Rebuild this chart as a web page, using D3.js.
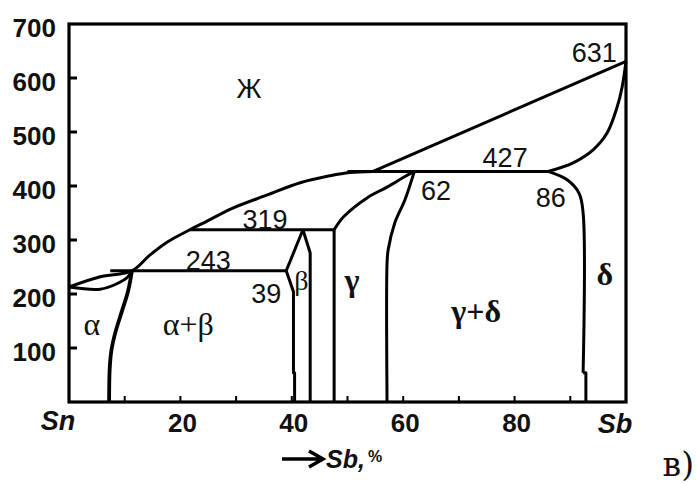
<!DOCTYPE html>
<html>
<head>
<meta charset="utf-8">
<script src="https://cdn.jsdelivr.net/npm/d3@7/dist/d3.min.js"></script>
<style>
  html, body { margin: 0; padding: 0; background: #fff; }
  svg { display: block; }
  text { fill: #111; }
</style>
</head>
<body>
<div id="chart"></div>
<script>
// Sn–Sb equilibrium phase diagram (composition in % Sb, temperature in °C)

// axis ticks
const tempTicks = [100, 200, 300, 400, 500, 600, 700];
const compTicks = [20, 40, 60, 80];
const compMinorTicks = [10, 20, 30, 40, 50, 60, 70, 80, 90];

// phase boundaries, [Sb %, T °C]
const liquidusLow = [[0, 213], [5.6, 232], [11.3, 243], [14.5, 272], [17.6, 296], [21.7, 319],
  [24.8, 335], [29.4, 359], [35.5, 383], [41.5, 406], [46.9, 419], [50.4, 425], [54.6, 427]];
const liquidusHigh = [[54.6, 427], [100, 631]];
const alphaSolidus = [[0, 213], [5.6, 209], [8.6, 219], [10.5, 231], [11.3, 243]];
const alphaSolvus = [[11.3, 243], [10.6, 205], [9.4, 165], [8.3, 128], [7.6, 95], [7.3, 60], [7.2, 0]];
const betaLeftUpper = [[39, 243], [42.0, 319]];
const betaRightUpper = [[42.0, 319], [43.3, 276], [43.3, 0]];
const betaLeftLower = [[39, 243], [40.3, 204], [40.3, 54], [40.5, 54], [40.5, 0]];
const gammaLeft = [[47.6, 319], [47.6, 0]];
const gammaSolidus = [[47.6, 319], [49.3, 343], [53.5, 378], [57.1, 398], [60.4, 418], [62, 427]];
const gammaSolvus = [[62, 427], [60.3, 374], [58.5, 332], [57.3, 282], [57.1, 257], [57.1, 0]];
const deltaSolidus = [[100, 631], [99.3, 583], [98.4, 546], [96.6, 498], [94.1, 467], [90.5, 443], [86, 427]];
const deltaSolvus = [[86, 427], [89.5, 411], [91.6, 386], [92.3, 350], [92.3, 54], [92.8, 54], [92.8, 0]];

// horizontal (invariant) lines: temperature and composition span
const isoTemps = [243, 319, 427];
const isoFrom = [7.4, 21.7, 50];
const isoTo = [39, 47.6, 86];

// text in the field of the diagram
const fieldText = ["631", "427", "62", "86", "319", "243", "39", "Ж"];
const phaseText = ["α", "α+β", "β", "γ", "δ", "γ+δ"];
const phaseBold = [false, false, false, true, true, true];

// anchor of each text, [Sb %, T °C] (middle of text, baseline)
const fieldAnchor = [[94.3, 630], [78.3, 435], [65.9, 374], [86.5, 361], [35.2, 321], [25, 245], [35.4, 183], [32.3, 563]];
const phaseAnchor = [[4.1, 124], [21.4, 124], [41.7, 207], [50.8, 206], [96.2, 217], [73.1, 148]];

const W = 696, H = 484;
const x = d3.scaleLinear().domain([0, 100]).range([69, 626]);
const y = d3.scaleLinear().domain([0, 700]).range([402, 24]);

const svg = d3.select("#chart").append("svg")
  .attr("width", W).attr("height", H)
  .attr("viewBox", `0 0 ${W} ${H}`);

const curved = d3.line().x(d => x(d[0])).y(d => y(d[1])).curve(d3.curveCatmullRom.alpha(0.5));
const straight = d3.line().x(d => x(d[0])).y(d => y(d[1]));

const lines = svg.append("g")
  .attr("fill", "none").attr("stroke", "#000")
  .attr("stroke-width", 3).attr("stroke-linejoin", "round").attr("stroke-linecap", "butt");

[liquidusLow, alphaSolidus, gammaSolidus, deltaSolidus].forEach(p =>
  lines.append("path").attr("d", curved(p)));
lines.append("path").attr("d", curved(alphaSolvus)).attr("stroke-width", 3.8);
[liquidusHigh, betaLeftUpper, betaRightUpper, betaLeftLower, gammaLeft].forEach(p =>
  lines.append("path").attr("d", straight(p)));
// curved heads with straight vertical tails
[[gammaSolvus, 5], [deltaSolvus, 4]].forEach(([p, k]) => {
  lines.append("path").attr("d", curved(p.slice(0, k + 1)));
  lines.append("path").attr("d", straight(p.slice(k)));
});

lines.selectAll("line.iso").data(isoTemps).join("line")
  .attr("class", "iso")
  .attr("x1", (d, i) => x(isoFrom[i])).attr("x2", (d, i) => x(isoTo[i]))
  .attr("y1", d => y(d)).attr("y2", d => y(d));

// frame with inward ticks
const frame = svg.append("g").attr("stroke", "#000").attr("fill", "none");
frame.append("rect")
  .attr("x", x(0)).attr("y", y(700))
  .attr("width", x(100) - x(0)).attr("height", y(0) - y(700))
  .attr("stroke-width", 3.2);
frame.selectAll("line.yt").data(tempTicks.filter(t => t < 700)).join("line")
  .attr("class", "yt").attr("stroke-width", 3)
  .attr("x1", x(0)).attr("x2", x(0) + 8)
  .attr("y1", d => y(d)).attr("y2", d => y(d));
frame.selectAll("line.xt").data(compMinorTicks).join("line")
  .attr("class", "xt").attr("stroke-width", 2)
  .attr("x1", d => x(d)).attr("x2", d => x(d))
  .attr("y1", y(0)).attr("y2", y(0) - 6);

// tick labels
svg.append("g").selectAll("text").data(tempTicks).join("text")
  .attr("x", x(0) - 13).attr("y", d => y(d) + 13)
  .attr("text-anchor", "end")
  .style("font", "bold 26px 'Liberation Sans', Arial, sans-serif")
  .text(d => d);
svg.append("g").selectAll("text").data(compTicks).join("text")
  .attr("x", d => x(d) + 2).attr("y", y(0) + 30)
  .attr("text-anchor", "middle")
  .style("font", "bold 26px 'Liberation Sans', Arial, sans-serif")
  .text(d => d);

// component names at the ends of the composition axis
const ends = svg.append("g").style("font", "italic bold 27px 'Liberation Sans', Arial, sans-serif");
ends.append("text").attr("x", x(0) - 11).attr("y", y(0) + 28).attr("text-anchor", "middle").text("Sn");
ends.append("text").attr("x", x(100) - 11).attr("y", y(0) + 31).attr("text-anchor", "middle").text("Sb");

// composition axis title with arrow
const ax = svg.append("g");
ax.append("path")
  .attr("d", "M282,459H322M309,451L323,459L309,467")
  .attr("fill", "none").attr("stroke", "#000").attr("stroke-width", 3.5);
const title = ax.append("text").attr("x", 326).attr("y", 468)
  .style("font", "italic bold 25px 'Liberation Sans', Arial, sans-serif");
title.append("tspan").text("Sb,");
title.append("tspan").attr("dx", 3).attr("dy", -6).style("font", "bold 16px 'Liberation Sans', Arial, sans-serif").text("%");

// temperature and composition values, liquid label
svg.append("g").selectAll("text").data(fieldText).join("text")
  .attr("x", (d, i) => x(fieldAnchor[i][0])).attr("y", (d, i) => y(fieldAnchor[i][1]))
  .attr("text-anchor", "middle")
  .style("font", "27px 'Liberation Sans', Arial, sans-serif")
  .text(d => d);

// phase fields
svg.append("g").selectAll("text").data(phaseText).join("text")
  .attr("x", (d, i) => x(phaseAnchor[i][0])).attr("y", (d, i) => y(phaseAnchor[i][1]))
  .attr("text-anchor", "middle")
  .style("font-family", "'Liberation Serif', 'Times New Roman', serif")
  .style("font-size", (d, i) => (i === 2 ? 28 : 32) + "px")
  .style("font-weight", (d, i) => phaseBold[i] ? "bold" : "normal")
  .text(d => d);

// sub-figure letter
svg.append("text").attr("x", 694).attr("y", 476)
  .attr("text-anchor", "end")
  .style("font", "33px 'DejaVu Serif', serif")
  .text("в)");
</script>
</body>
</html>
